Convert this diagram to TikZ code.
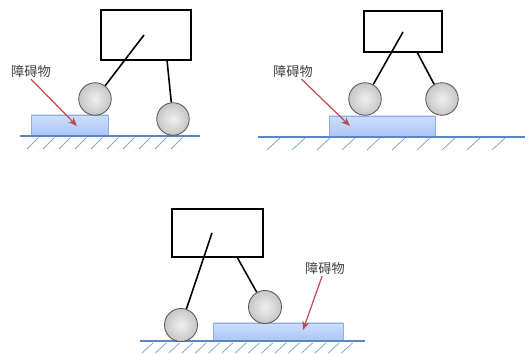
\documentclass[tikz,border=0pt]{standalone}
\usepackage{fontspec}
\newfontfamily\cjk{Noto Sans CJK SC}
\usetikzlibrary{arrows.meta}

\definecolor{groundblue}{RGB}{90,135,195}
\definecolor{blocktop}{RGB}{205,222,252}
\definecolor{blockbot}{RGB}{170,198,245}
\definecolor{blockedge}{RGB}{140,175,230}
\definecolor{pointred}{RGB}{195,75,85}

\begin{document}
\begin{tikzpicture}[x=0.02cm,y=-0.02cm,
  body/.style={draw,line width=0.6pt,fill=white,inner sep=0pt},
  wheel/.style={circle,draw=gray!70!black,line width=0.5pt,inner sep=0pt,
    minimum size=0.65cm,shading=radial,inner color=gray!12,outer color=gray!45},
  leg/.style={line width=0.9pt},
  block/.style={draw=blockedge,line width=0.4pt,top color=blocktop,bottom color=blockbot},
  ground/.style={draw=groundblue,line width=0.8pt},
  hatch/.style={draw=groundblue!75,line width=0.45pt},
  label/.style={font=\cjk\fontsize{7.5}{9}\selectfont,text=black!75,inner sep=1pt},
  pointer/.style={-{Stealth[length=5pt,width=4pt]},draw=pointred,line width=0.7pt}]
  \useasboundingbox (0,0) rectangle (528,354);

  % left: front wheel up on the block
  \draw[block] (31,115) rectangle (108,136);
  \draw[ground] (20,136) -- (200,136);
  \foreach \i in {0,...,9}
    \draw[hatch] (38+16*\i,138) -- ++(-11,11);
  \node[body,minimum width=1.8cm,minimum height=1cm] (box1) at (146,35) {};
  \coordinate (hip1a) at (144,35);
  \coordinate (hip1b) at (167,60);
  \node[wheel] (w1a) at (95,99) {};
  \node[wheel] (w1b) at (173,119) {};
  \draw[leg] (hip1a) -- (w1a);
  \draw[leg] (hip1b) -- (w1b);
  \node[label] (lab1) at (31,71) {障碍物};
  \coordinate (tip1) at (77,126);
  \draw[pointer] (lab1.south) -- (tip1);

  % right: both wheels on the block
  \draw[block] (329,116) rectangle (435,137);
  \draw[ground] (258,137) -- (525,137);
  \foreach \i in {0,...,9}
    \draw[hatch] (280+25*\i,138) -- ++(-13,12);
  \node[body,minimum width=1.56cm,minimum height=0.82cm] (box2) at (403,31.5) {};
  \coordinate (hip2a) at (403,32);
  \coordinate (hip2b) at (417,52);
  \node[wheel] (w2a) at (365,99) {};
  \node[wheel] (w2b) at (442,99) {};
  \draw[leg] (hip2a) -- (w2a);
  \draw[leg] (hip2b) -- (w2b);
  \node[label] (lab2) at (293,71) {障碍物};
  \coordinate (tip2) at (350,126);
  \draw[pointer] (lab2) -- (tip2);

  % bottom: rear wheel up on the block
  \draw[block] (213,323) rectangle (343,341);
  \draw[ground] (140,341) -- (365,341);
  \foreach \i in {0,...,15}
    \draw[hatch] (153+13.3*\i,343) -- ++(-11,10);
  \node[body,minimum width=1.82cm,minimum height=0.96cm] (box3) at (217.5,233) {};
  \coordinate (hip3a) at (212,233);
  \coordinate (hip3b) at (237,257);
  \node[wheel,minimum size=0.66cm] (w3a) at (181,325) {};
  \node[wheel,minimum size=0.66cm] (w3b) at (265,307) {};
  \draw[leg] (hip3a) -- (w3a);
  \draw[leg] (hip3b) -- (w3b);
  \node[label] (lab3) at (325,268) {障碍物};
  \coordinate (tip3) at (303,330);
  \draw[pointer] (lab3) -- (tip3);
\end{tikzpicture}
\end{document}
